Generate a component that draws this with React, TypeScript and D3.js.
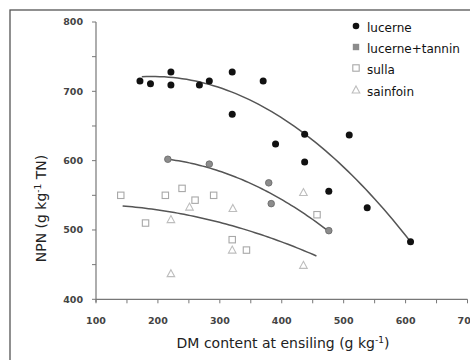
import React from "react";
import * as d3 from "d3";

const xTicks = [100, 200, 300, 400, 500, 600, 700];
const yTicks = [400, 500, 600, 700, 800];

const lucerneX = [171, 188, 221, 221, 267, 283, 320, 320, 370, 437, 390, 437, 509, 476, 538, 608];
const lucerneY = [715, 711, 728, 709, 709, 715, 728, 667, 715, 638, 624, 598, 637, 556, 532, 483];
const tanninX = [216, 283, 379, 383, 476];
const tanninY = [602, 595, 568, 538, 499];
const sullaX = [140, 180, 212, 239, 260, 290, 320, 343, 457];
const sullaY = [550, 510, 550, 560, 543, 550, 486, 471, 522];
const sainfoinX = [221, 221, 251, 321, 320, 435, 435];
const sainfoinY = [515, 437, 533, 531, 471, 554, 449];

// quadratic trend lines: [xStart, xEnd, centre, a, b, c]
const lucerneFit = [174, 608, 400, 661.7, -0.5731, -0.001376];
const tanninFit = [216, 476, 350, 567, -0.409, -0.0011];
const sullaFit = [143, 456, 300, 510.9, -0.2309, -0.000508];

const legendLabels = ["lucerne", "lucerne+tannin", "sulla", "sainfoin"];

const W = 470;
const H = 360;

export default function App() {
  const x = d3.scaleLinear().domain([100, 700]).range([96, 467.5]);
  const y = d3.scaleLinear().domain([400, 800]).range([299.3, 22]);

  const fitPath = (f: number[]) => {
    const [x0, x1, c0, a, b, c] = f;
    const xs = d3.range(x0, x1 + 0.001, (x1 - x0) / 60);
    const line = d3
      .line<number>()
      .x((v) => x(v))
      .y((v) => y(a + b * (v - c0) + c * (v - c0) * (v - c0)));
    return line(xs) || "";
  };

  const xMinor = d3.range(100, 701, 50);
  const yMinor = d3.range(400, 801, 50);
  const font = "'DejaVu Sans', Verdana, sans-serif";

  const square = (cx: number, cy: number, key: string) => (
    <rect key={key} x={cx - 3.2} y={cy - 3.2} width={6.4} height={6.4} fill="none" stroke="#a8a8a8" strokeWidth={1.1} />
  );
  const tri = (cx: number, cy: number, key: string) => (
    <path
      key={key}
      d={`M${cx},${cy - 4} L${cx + 3.8},${cy + 3} L${cx - 3.8},${cy + 3} Z`}
      fill="none"
      stroke="#bdbdbd"
      strokeWidth={1.1}
    />
  );

  const legendY = [28, 49, 70, 92];

  return (
    <svg width={W} height={H} style={{ position: "absolute", left: 0, top: 0, background: "#fff" }}>
      <rect x={10} y={10} width={480} height={380} fill="none" stroke="#555" strokeWidth={1.3} />

      {/* axes */}
      <line x1={x(100)} x2={x(100)} y1={y(800)} y2={y(400) + 3} stroke="#777" strokeWidth={1.2} />
      <line x1={x(100)} x2={x(700)} y1={y(400)} y2={y(400)} stroke="#777" strokeWidth={1.2} />
      {yMinor.map((v) => (
        <line key={"yt" + v} x1={x(100) - 4} x2={x(100)} y1={y(v)} y2={y(v)} stroke="#777" strokeWidth={1} />
      ))}
      {xMinor.map((v) => (
        <line key={"xt" + v} x1={x(v)} x2={x(v)} y1={y(400)} y2={y(400) + 4} stroke="#777" strokeWidth={1} />
      ))}
      {yTicks.map((v) => (
        <text key={"yl" + v} x={83} y={y(v)} dy="0.35em" textAnchor="end" fontFamily={font} fontSize={9.5} fontWeight="bold" fill="#444">
          {v}
        </text>
      ))}
      {xTicks.map((v) => (
        <text key={"xl" + v} x={x(v)} y={320.5} dy="0.35em" textAnchor="middle" fontFamily={font} fontSize={9.5} fontWeight="bold" fill="#444">
          {v}
        </text>
      ))}

      {/* axis titles */}
      <text x={283} y={348} textAnchor="middle" fontFamily={font} fontSize={14} fill="#222">
        DM content at ensiling (g kg<tspan dy={-5} fontSize={9}>-1</tspan>
        <tspan dy={5}>)</tspan>
      </text>
      <text transform={`translate(46,208.5) rotate(-90)`} textAnchor="middle" fontFamily={font} fontSize={14} fill="#222">
        NPN (g kg<tspan dy={-5} fontSize={9}>-1</tspan>
        <tspan dy={5}> TN)</tspan>
      </text>

      {/* trend lines */}
      {[lucerneFit, tanninFit, sullaFit].map((f, i) => (
        <path key={"fit" + i} d={fitPath(f)} fill="none" stroke="#555" strokeWidth={1.5} />
      ))}

      {/* points */}
      {sullaX.map((v, i) => square(x(v), y(sullaY[i]), "s" + i))}
      {sainfoinX.map((v, i) => tri(x(v), y(sainfoinY[i]), "f" + i))}
      {tanninX.map((v, i) => (
        <circle key={"t" + i} cx={x(v)} cy={y(tanninY[i])} r={3.3} fill="#8c8c8c" stroke="#666" strokeWidth={0.8} />
      ))}
      {lucerneX.map((v, i) => (
        <circle key={"l" + i} cx={x(v)} cy={y(lucerneY[i])} r={3.5} fill="#111" />
      ))}

      {/* legend */}
      <circle cx={356} cy={legendY[0] - 2} r={3.3} fill="#111" />
      <rect x={352.8} y={legendY[1] - 5.2} width={6.4} height={6.4} fill="#8c8c8c" />
      {square(356, legendY[2] - 2, "ls")}
      {tri(356, legendY[3] - 2, "lf")}
      {legendLabels.map((t, i) => (
        <text key={"lg" + i} x={367} y={legendY[i]} dy="0.35em" fontFamily={font} fontSize={12} fill="#111">
          {t}
        </text>
      ))}
    </svg>
  );
}
